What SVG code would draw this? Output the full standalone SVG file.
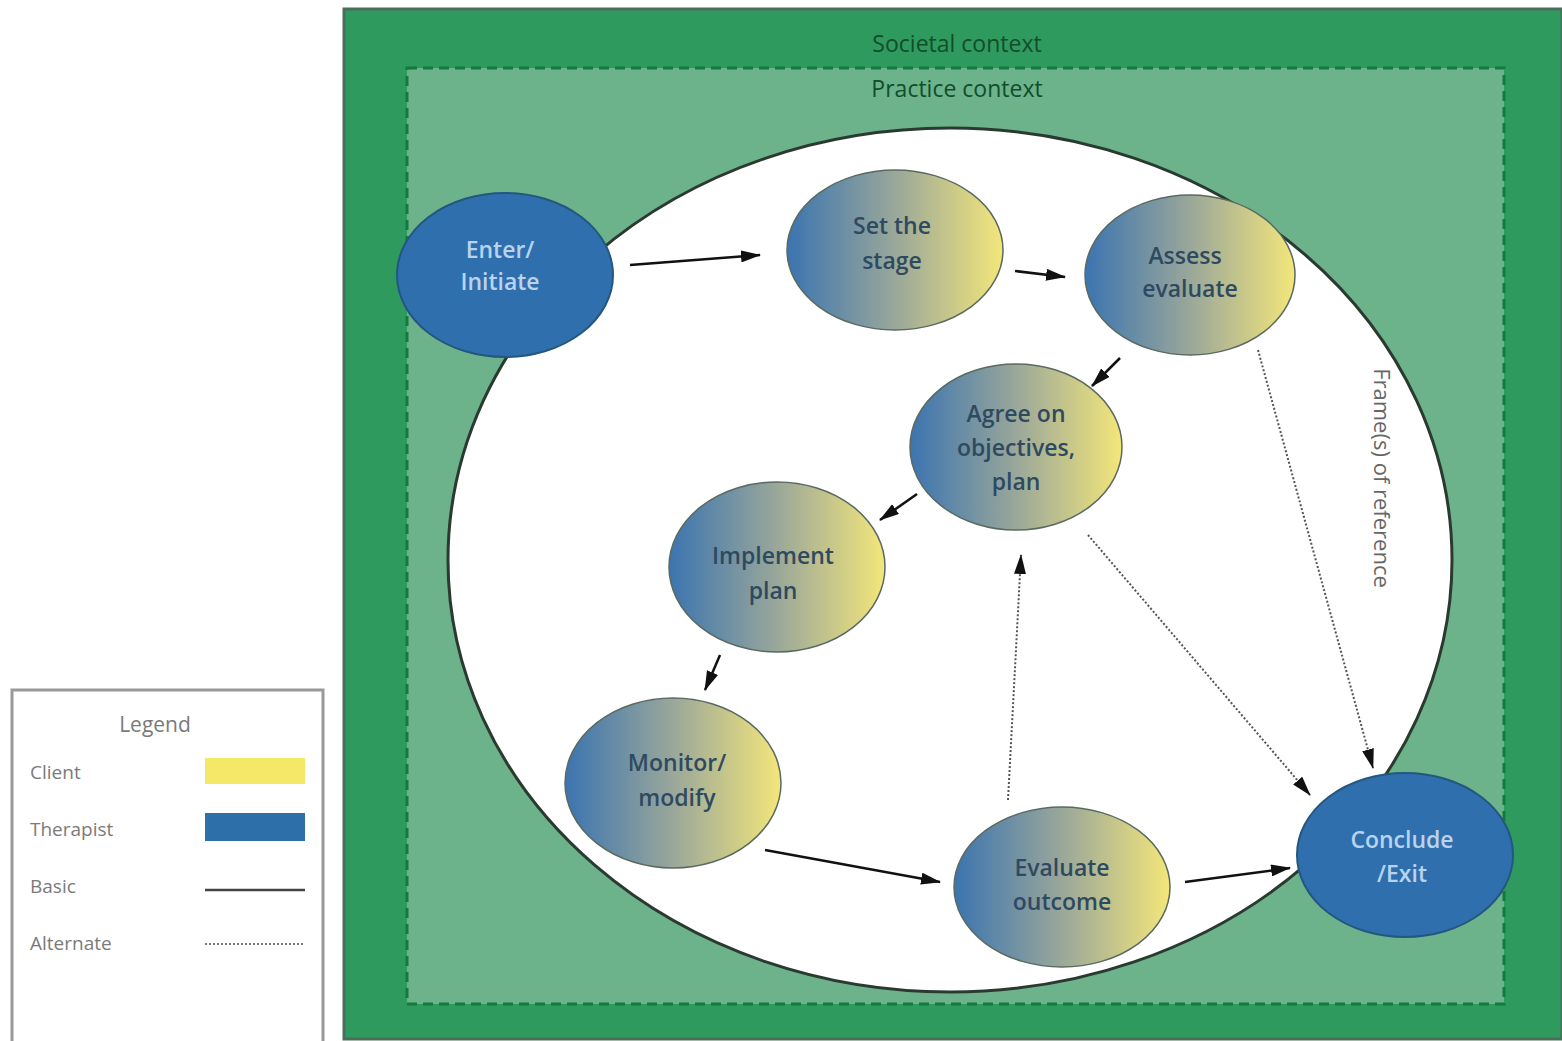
<svg xmlns="http://www.w3.org/2000/svg" width="1562" height="1041" viewBox="0 0 1562 1041">
<style>
.lbl{font-family:"Open Sans","Liberation Sans",sans-serif;font-size:23px;font-weight:600;text-anchor:middle}
.ctx{font-family:"Open Sans","Liberation Sans",sans-serif;font-size:23px;fill:#124d2c;text-anchor:middle}
.dark{fill:#2f4a60}
.light{fill:#b9d3ee}
.grad{fill:url(#g);stroke:#5a6a60;stroke-width:1.5}
.blue{fill:#2f6fae;stroke:#24577f;stroke-width:2}
.basic{stroke:#111;stroke-width:2.5;fill:none;marker-end:url(#ah)}
.alt{stroke:#555;stroke-width:2;stroke-dasharray:2 2;fill:none;marker-end:url(#ah)}
.leg{font-family:"Open Sans","Liberation Sans",sans-serif;font-size:19px;fill:#7a7a7a}
</style>
<defs>
<linearGradient id="g" x1="0" y1="0" x2="1" y2="0">
<stop offset="0" stop-color="#3b74b0"/>
<stop offset="0.5" stop-color="#9aa79a"/>
<stop offset="1" stop-color="#f3e67a"/>
</linearGradient>
<marker id="ah" viewBox="0 0 20 12" refX="19" refY="6" markerWidth="20" markerHeight="12" orient="auto" markerUnits="userSpaceOnUse">
<path d="M0,0 L20,6 L0,12 z" fill="#111"/>
</marker>
</defs>
<rect width="1562" height="1041" fill="#ffffff"/>
<g id="societal">
<rect x="344" y="9" width="1218" height="1030" fill="#2f9a5e" stroke="#4a6e58" stroke-width="3"/>
<text class="ctx" x="957" y="52">Societal context</text>
</g>
<g id="practice">
<rect x="407" y="68" width="1097" height="936" fill="#6cb38b" stroke="#127a3c" stroke-width="3" stroke-dasharray="10 6"/>
<text class="ctx" x="957" y="97">Practice context</text>
</g>
<g id="frame">
<ellipse cx="950" cy="560" rx="502" ry="432" fill="#ffffff" stroke="#2b3a30" stroke-width="3"/>
<text class="leg" style="fill:#666;font-size:22px" transform="translate(1374,478) rotate(90)" text-anchor="middle">Frame(s) of reference</text>
</g>
<g id="enter">
<ellipse class="blue" cx="505" cy="275" rx="108" ry="82"/>
<text class="lbl light" x="500" y="258">Enter/</text>
<text class="lbl light" x="500" y="290">Initiate</text>
</g>
<g id="setstage">
<ellipse class="grad" cx="895" cy="250" rx="108" ry="80"/>
<text class="lbl dark" x="892" y="234">Set the</text>
<text class="lbl dark" x="892" y="269">stage</text>
</g>
<g id="assess">
<ellipse class="grad" cx="1190" cy="275" rx="105" ry="80"/>
<text class="lbl dark" x="1185" y="264">Assess</text>
<text class="lbl dark" x="1190" y="297">evaluate</text>
</g>
<g id="agree">
<ellipse class="grad" cx="1016" cy="447" rx="106" ry="83"/>
<text class="lbl dark" x="1016" y="422">Agree on</text>
<text class="lbl dark" x="1016" y="456">objectives,</text>
<text class="lbl dark" x="1016" y="490">plan</text>
</g>
<g id="implement">
<ellipse class="grad" cx="777" cy="567" rx="108" ry="85"/>
<text class="lbl dark" x="773" y="564">Implement</text>
<text class="lbl dark" x="773" y="599">plan</text>
</g>
<g id="monitor">
<ellipse class="grad" cx="673" cy="783" rx="108" ry="85"/>
<text class="lbl dark" x="677" y="771">Monitor/</text>
<text class="lbl dark" x="677" y="806">modify</text>
</g>
<g id="evaluate">
<ellipse class="grad" cx="1062" cy="887" rx="108" ry="80"/>
<text class="lbl dark" x="1062" y="876">Evaluate</text>
<text class="lbl dark" x="1062" y="910">outcome</text>
</g>
<g id="conclude">
<ellipse class="blue" cx="1405" cy="855" rx="108" ry="82"/>
<text class="lbl light" x="1402" y="848">Conclude</text>
<text class="lbl light" x="1402" y="882">/Exit</text>
</g>
<g id="connectors">
<line class="basic" x1="630" y1="265" x2="760" y2="255"/>
<line class="basic" x1="1015" y1="271" x2="1065" y2="277"/>
<line class="basic" x1="1120" y1="358" x2="1092" y2="386"/>
<line class="basic" x1="917" y1="494" x2="880" y2="520"/>
<line class="basic" x1="720" y1="655" x2="705" y2="690"/>
<line class="basic" x1="765" y1="850" x2="940" y2="882"/>
<line class="basic" x1="1185" y1="882" x2="1290" y2="868"/>
<line class="alt" x1="1008" y1="800" x2="1021" y2="555"/>
<line class="alt" x1="1088" y1="535" x2="1310" y2="795"/>
<line class="alt" x1="1258" y1="350" x2="1373" y2="768"/>
</g>
<g id="legend">
<rect x="12" y="690" width="311" height="360" fill="#ffffff" stroke="#999" stroke-width="3"/>
<text class="leg" x="155" y="732" text-anchor="middle" style="font-size:21px">Legend</text>
<text class="leg" x="30" y="779">Client</text>
<rect x="205" y="758" width="100" height="26" fill="#f5e768"/>
<text class="leg" x="30" y="836">Therapist</text>
<rect x="205" y="813" width="100" height="28" fill="#2d6fa8"/>
<text class="leg" x="30" y="893">Basic</text>
<line x1="205" y1="890" x2="305" y2="890" stroke="#444" stroke-width="2.5"/>
<text class="leg" x="30" y="950">Alternate</text>
<line x1="205" y1="944" x2="305" y2="944" stroke="#777" stroke-width="2" stroke-dasharray="2 2"/>
</g>
</svg>
